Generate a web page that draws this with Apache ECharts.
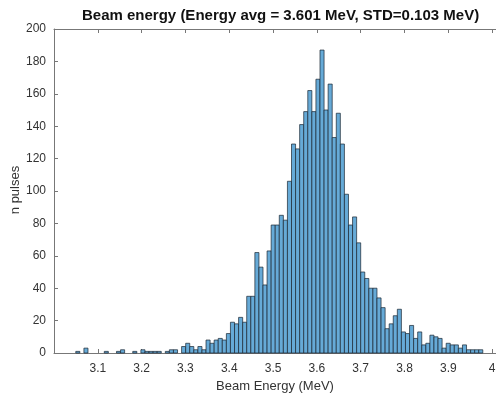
<!DOCTYPE html>
<html>
<head>
<meta charset="utf-8">
<script src="https://cdn.jsdelivr.net/npm/echarts@6/dist/echarts.min.js"></script>
<style>
  html, body { margin: 0; padding: 0; background: #fff; }
  #chart { width: 496px; height: 394px; }
</style>
</head>
<body>
<div id="chart"></div>
<script>
// histogram of beam energy, 100 bins
const binStart = 3.0497;   // left edge of first bin (MeV)
const binWidth = 0.00929;  // MeV
const counts = [
  1, 0, 3, 0, 0, 0, 0, 1, 0, 0,
  1, 2, 0, 0, 1, 0, 2, 1, 1, 1,
  1, 0, 1, 2, 2, 0, 4, 6, 4, 2,
  4, 2, 8, 6, 8, 9, 8, 12, 19, 18,
  22, 19, 35, 35, 62, 53, 42, 63, 79, 79,
  85, 82, 106, 129, 126, 141, 149, 162, 149, 169,
  187, 150, 166, 133, 148, 129, 98, 79, 84, 68,
  50, 46, 40, 40, 34, 28, 15, 18, 23, 27,
  13, 12, 17, 9, 13, 5, 6, 11, 10, 9,
  3, 6, 5, 5, 3, 5, 2, 2, 2, 2
];
const xTicks = [3.1, 3.2, 3.3, 3.4, 3.5, 3.6, 3.7, 3.8, 3.9, 4.0];
const titleText = "Beam energy (Energy avg = 3.601 MeV, STD=0.103 MeV)";
const yName = "n pulses";

// [left edge, right edge, count]
const bins = [];
counts.forEach((c, i) => {
  if (c > 0) bins.push([binStart + i * binWidth, binStart + (i + 1) * binWidth, c]);
});

const axisCol = "#777";
const textCol = "#333";
const font = "'Liberation Sans', Arial, sans-serif";

const tickLabel = v => {
  const hit = xTicks.find(t => Math.abs(t - v) < 1e-6);
  return hit === undefined ? "" : String(+hit.toFixed(1));
};

const xMin = 3.0, xMax = 4.0088;

const chart = echarts.init(document.getElementById("chart"), null, { renderer: "canvas" });
chart.setOption({
  animation: false,
  backgroundColor: "#fff",
  title: {
    text: titleText,
    left: 82,
    top: 8,
    padding: 0,
    textStyle: { fontFamily: font, fontSize: 15, fontWeight: "bold", color: "#111" }
  },
  // y axis name placed by hand, the axis name would not come closer to the labels
  graphic: [{
    type: "text",
    x: 15,
    y: 190,
    rotation: Math.PI / 2,
    style: {
      text: yName,
      fontFamily: font,
      fontSize: 13,
      fill: textCol,
      textAlign: "center",
      textVerticalAlign: "middle"
    }
  }],
  grid: { left: 54, right: 0, top: 29, bottom: 41, containLabel: false, outerBoundsMode: "none" },
  xAxis: [{
    type: "value",
    min: xMin,
    max: xMax,
    interval: 0.1,
    name: "Beam Energy (MeV)",
    nameLocation: "middle",
    nameGap: 26,
    nameTextStyle: { fontFamily: font, fontSize: 13, color: textCol },
    axisLine: { lineStyle: { color: axisCol, width: 1 } },
    axisTick: { inside: true, length: 4, lineStyle: { color: axisCol } },
    axisLabel: { formatter: tickLabel, fontFamily: font, fontSize: 12, color: textCol, margin: 10 },
    splitLine: { show: false }
  }, {
    type: "value",
    position: "top",
    min: xMin,
    max: xMax,
    interval: 0.1,
    axisLine: { show: true, lineStyle: { color: axisCol, width: 1 } },
    axisTick: { show: true, inside: true, length: 4, lineStyle: { color: axisCol } },
    axisLabel: { show: false },
    splitLine: { show: false }
  }],
  yAxis: {
    type: "value",
    min: 0,
    max: 200,
    interval: 20,
    axisLine: { show: true, lineStyle: { color: axisCol, width: 1 } },
    axisTick: { show: true, inside: true, length: 4, lineStyle: { color: axisCol } },
    axisLabel: { fontFamily: font, fontSize: 12, color: textCol, margin: 8 },
    splitLine: { show: false }
  },
  series: [{
    type: "custom",
    xAxisIndex: 0,
    encode: { x: [0, 1], y: 2 },
    data: bins,
    renderItem: (params, api) => {
      const topLeft = api.coord([api.value(0), api.value(2)]);
      const bottomRight = api.coord([api.value(1), 0]);
      return {
        type: "rect",
        shape: {
          x: topLeft[0],
          y: topLeft[1],
          width: bottomRight[0] - topLeft[0],
          height: bottomRight[1] - topLeft[1]
        },
        style: { fill: "#66aad7", stroke: "#1a2530", lineWidth: 0.7 }
      };
    }
  }]
});
</script>
</body>
</html>
